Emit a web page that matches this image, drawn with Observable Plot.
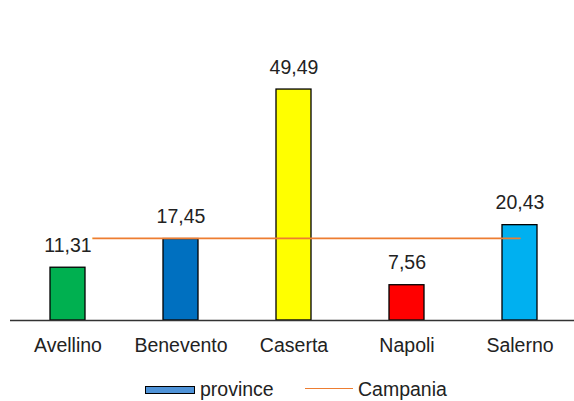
<!DOCTYPE html>
<html><head><meta charset="utf-8">
<script src="https://cdn.jsdelivr.net/npm/d3@7"></script>
<script src="https://cdn.jsdelivr.net/npm/@observablehq/plot@0.6"></script>
<style>
body{margin:0;background:#fff;font-family:"Liberation Sans",Arial,sans-serif;}
#legend{position:relative;height:36px;width:574px;}
#legend .sw{position:absolute;left:145px;top:21px;width:48px;height:6px;background:#4F93D8;border:1px solid #000;}
#legend .ln{position:absolute;left:305px;top:23px;width:48px;height:0;border-top:1.5px solid #ED7D31;}
#legend .t{position:absolute;top:13px;font-size:19.5px;line-height:22px;color:#222;}
</style></head><body>
<div id="chart"></div>
<div id="legend">
  <div class="sw"></div><div class="t" style="left:200px">province</div>
  <div class="ln"></div><div class="t" style="left:358px">Campania</div>
</div>
<script>
const provinces = ["Avellino", "Benevento", "Caserta", "Napoli", "Salerno"];
const values = [11.31, 17.45, 49.49, 7.56, 20.43];
const barColors = ["#00B050", "#0070C0", "#FFFF00", "#FF0000", "#00B0F0"];
const campania = [17.6, 17.6, 17.6, 17.6, 17.6];

const data = provinces.map((p, i) => ({province: p, value: values[i], color: barColors[i], campania: campania[i]}));
const fmt = v => v.toFixed(2).replace(".", ",");

const chart = Plot.plot({
  width: 574, height: 365,
  marginTop: 40, marginBottom: 45, marginLeft: 10, marginRight: 0,
  style: {fontFamily: '"Liberation Sans", Arial, sans-serif', fontSize: "19.5px", color: "#222", background: "white"},
  x: {domain: provinces, range: [11, 577], paddingInner: 0.69, paddingOuter: 0.345, label: null, axis: null},
  y: {domain: [0, 60], axis: null},
  color: {type: "identity"},
  marks: [
    Plot.barY(data, {x: "province", y: "value", fill: "color", stroke: "#000", strokeWidth: 1.3}),
    Plot.ruleY([0], {stroke: "#333", strokeWidth: 1.6}),
    Plot.lineY(data, {x: "province", y: "campania", stroke: "#ED7D31", strokeWidth: 1.6}),
    Plot.text(data, {x: "province", y: "value", text: d => fmt(d.value), dy: -22, fill: "#222", stroke: "white", strokeWidth: 10, fontSize: 19.5}),
    Plot.axisX({tickSize: 0, tickPadding: 18, fontSize: 19.5, fill: "#222", label: null})
  ]
});
document.getElementById("chart").appendChild(chart);
</script>
</body></html>
